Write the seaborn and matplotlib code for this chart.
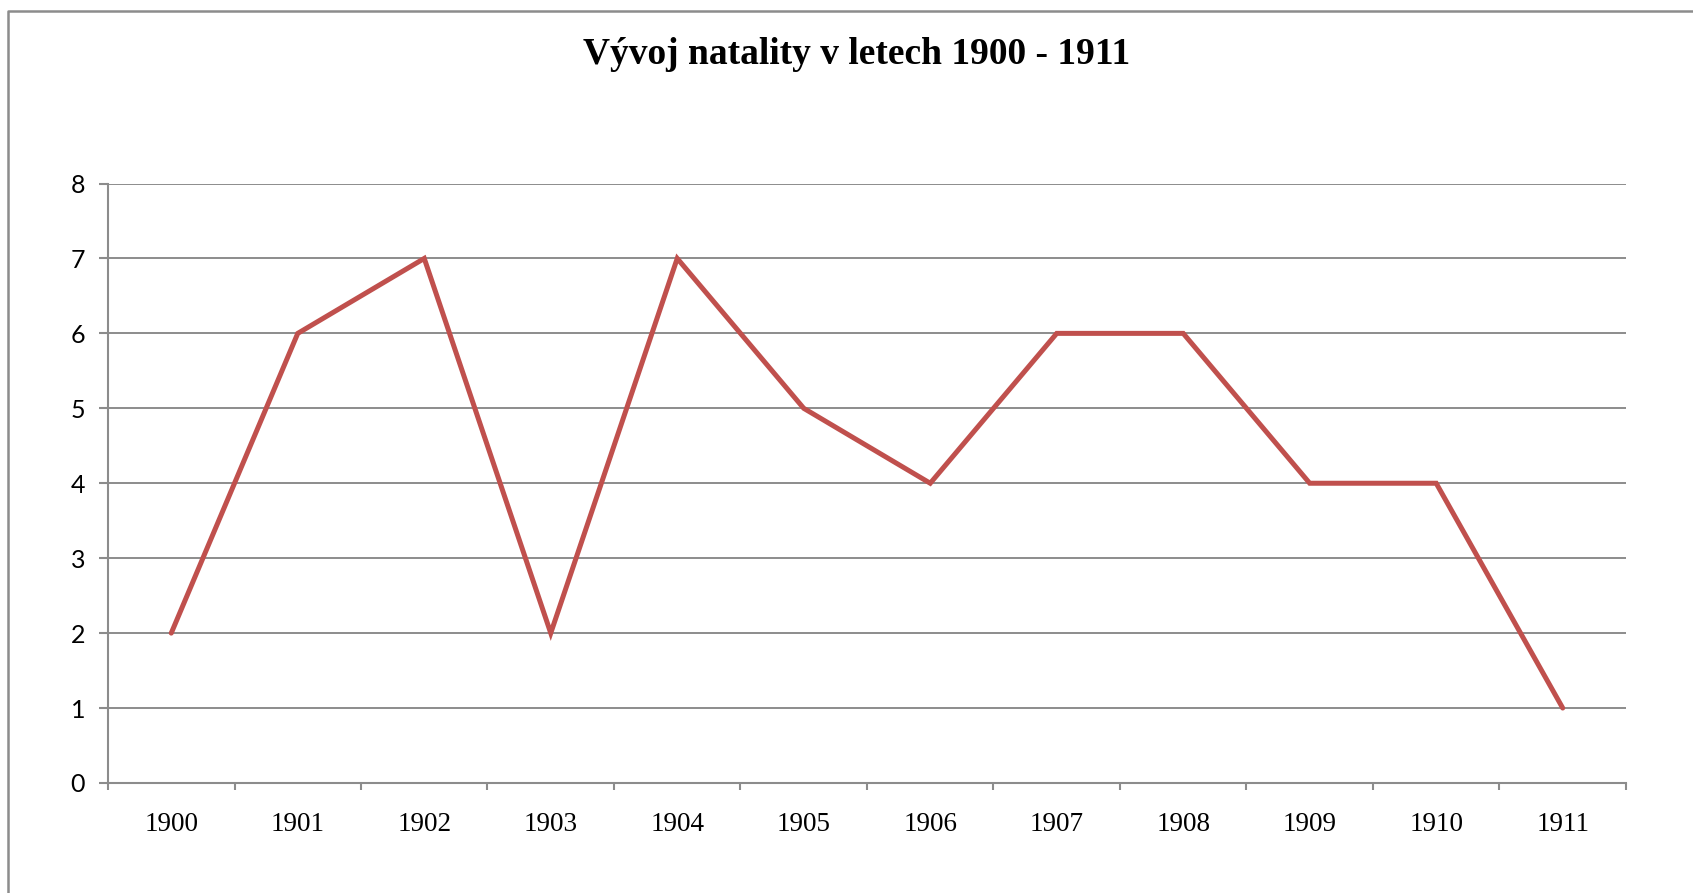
import matplotlib
matplotlib.use("Agg")
import matplotlib.pyplot as plt
import seaborn as sns
import numpy as np
import pandas as pd
from matplotlib.lines import Line2D

# données
roky = [1900, 1901, 1902, 1903, 1904, 1905, 1906, 1907, 1908, 1909, 1910, 1911]
natalita = [2, 6, 7, 2, 7, 5, 4, 6, 6, 4, 4, 1]
y_ticks = [0, 1, 2, 3, 4, 5, 6, 7, 8]
titre = "Vývoj natality v letech 1900 - 1911"

df = pd.DataFrame({"rok": roky, "natalita": natalita})

sns.set_theme(style="white")
gris = "#8c8c8c"
rouge = "#c0504d"

fig = plt.figure(figsize=(16.93, 8.93), dpi=100)
ax = fig.add_axes([0.0638, 0.1232, 0.9604 - 0.0638, 0.7945 - 0.1232])

sns.lineplot(data=df, x="rok", y="natalita", ax=ax, color=rouge, linewidth=3.6,
             solid_capstyle="round", solid_joinstyle="miter")

# axes et grille
ax.set_xlim(roky[0] - 0.5, roky[-1] + 0.5)
ax.set_ylim(y_ticks[0], y_ticks[-1])
ax.set_yticks(y_ticks)
ax.set_xticks(roky)
ax.set_xticklabels([str(r) for r in roky], family="Liberation Serif", fontsize=19.5)
ax.set_yticklabels([str(t) for t in y_ticks], family="Lato", fontsize=18)
ax.set_xticks(np.arange(roky[0] - 0.5, roky[-1] + 1, 1), minor=True)
ax.tick_params(axis="x", which="major", length=0, pad=21, colors="black")
ax.tick_params(axis="x", which="minor", length=5, width=1.5, color=gris, direction="out", bottom=True)
ax.tick_params(axis="y", which="major", length=6.5, width=1.5, color=gris, labelcolor="black",
               direction="out", left=True, pad=10)
ax.yaxis.grid(True, color=gris, linewidth=1.4)
ax.xaxis.grid(False)
ax.set_axisbelow(True)
for cote in ["top", "right"]:
    ax.spines[cote].set_visible(False)
for cote in ["left", "bottom"]:
    ax.spines[cote].set_color(gris)
    ax.spines[cote].set_linewidth(1.5)
ax.set_xlabel("")
ax.set_ylabel("")

fig.text(0.506, 0.939, titre, ha="center", va="center", family="Liberation Serif",
         fontweight="bold", fontsize=27, color="black")

# cadre du graphique (seulement haut et gauche visibles)
x0, y0 = 7.5 / 1693, 1 - 11 / 893
fig.add_artist(Line2D([x0, x0, 1.0], [0.0, y0, y0], transform=fig.transFigure,
                      color=gris, linewidth=1.8))

fig.savefig("out.png", dpi=100, facecolor="white")
